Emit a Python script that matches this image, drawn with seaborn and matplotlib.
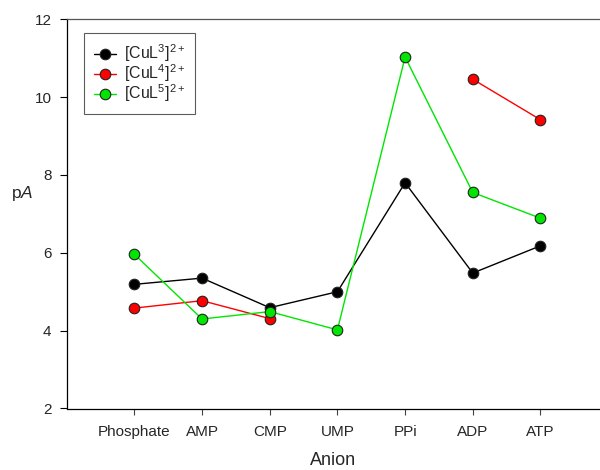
import matplotlib
matplotlib.use("Agg")
import matplotlib.pyplot as plt
from matplotlib.lines import Line2D
import seaborn as sns
import pandas as pd
import numpy as np

anions = ["Phosphate", "AMP", "CMP", "UMP", "PPi", "ADP", "ATP"]
cul3 = [5.19, 5.35, 4.59, 5.00, 7.80, 5.48, 6.18]
cul4 = [4.58, 4.77, 4.31, np.nan, np.nan, 10.46, 9.42]
cul5 = [5.96, 4.30, 4.49, 4.02, 11.03, 7.55, 6.89]

series = [("[CuL$^3$]$^{2+}$", cul3, "black"),
          ("[CuL$^4$]$^{2+}$", cul4, "#ff0000"),
          ("[CuL$^5$]$^{2+}$", cul5, "#00e600")]

sns.set_theme(style="white")
plt.rcParams['font.family'] = ['Liberation Sans', 'DejaVu Sans']
plt.rcParams['mathtext.fontset'] = 'custom'
plt.rcParams['mathtext.rm'] = 'Liberation Sans'
plt.rcParams['mathtext.it'] = 'Liberation Sans:italic'

fig = plt.figure(figsize=(6, 4.7), dpi=100)
ax = fig.add_axes([66.7 / 600, 1 - 408.5 / 470, (600 - 66.7) / 600, (408.5 - 19.3) / 470])

handles = []
for name, vals, col in series:
    df = pd.DataFrame({"pos": np.arange(len(anions)), "pA": vals})
    # split into runs so missing values leave a gap
    df["seg"] = df["pA"].isna().cumsum()
    df = df.dropna()
    sns.lineplot(data=df, x="pos", y="pA", units="seg", estimator=None, color=col,
                 lw=1.0, marker="o", markersize=7.6, markerfacecolor=col,
                 markeredgecolor="#222222", markeredgewidth=0.8, ax=ax, legend=False)
    handles.append(Line2D([], [], color=col, lw=1.0, marker="o", markersize=7.6,
                          markerfacecolor=col, markeredgecolor="#222222",
                          markeredgewidth=0.8, label=name))

ax.set_xlim(-1, 6.88)
ax.set_ylim(2, 12)
ax.set_xticks(range(len(anions)))
ax.set_xticklabels(anions, fontsize=11)
ax.set_yticks([2, 4, 6, 8, 10, 12])
ax.tick_params(axis="y", labelsize=11, direction="out", length=5, width=0.8, pad=6,
               left=True, color="black")
ax.tick_params(axis="x", direction="out", length=4, width=0.8, pad=8, bottom=True,
               color="#444444")
ax.set_xlabel("Anion", fontsize=13)
ax.xaxis.set_label_coords(0.5, -0.112)
ax.set_ylabel("p$\\it{A}$", fontsize=12.5, rotation=0)
ax.yaxis.set_label_coords(-0.083, 0.528)

for s in ["left", "bottom", "top"]:
    ax.spines[s].set_color("black")
    ax.spines[s].set_linewidth(0.9)
ax.spines["top"].set_color("#555555")
ax.spines["right"].set_visible(False)

leg = ax.legend(handles=handles, loc="upper left", bbox_to_anchor=(0.0324, 0.965),
                borderaxespad=0, fontsize=11.5, frameon=True, fancybox=False,
                handlelength=1.4, handletextpad=0.5, borderpad=0.6, labelspacing=-0.1)
leg.get_frame().set_edgecolor("#333333")
leg.get_frame().set_linewidth(0.8)

fig.savefig("out.png", dpi=100)
